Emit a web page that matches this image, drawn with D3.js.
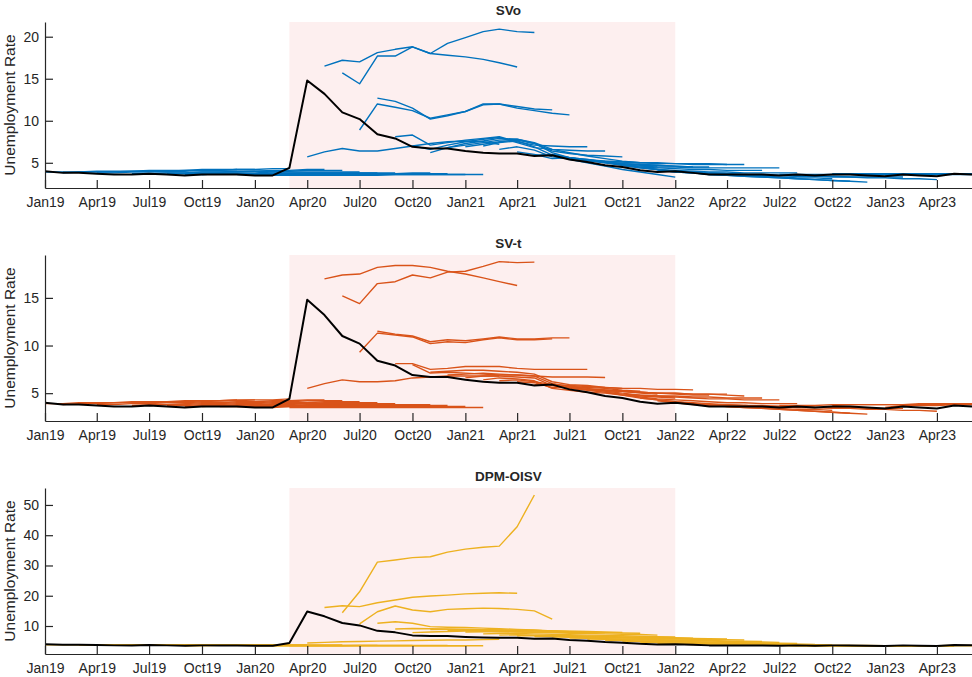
<!DOCTYPE html>
<html>
<head>
<meta charset="utf-8">
<script src="https://cdn.jsdelivr.net/npm/d3@7"></script>
<style>
  body { margin: 0; background: #fff; }
  svg { display: block; font-family: "Liberation Sans", Arial, sans-serif; }
</style>
</head>
<body>
<div id="chart"></div>
<script>
const width = 972;
const height = 677;

// ---- data ----
const xStart = "2019-01";
const xEnd = "2023-06";
const tickMonths = ["2019-01","2019-04","2019-07","2019-10","2020-01","2020-04","2020-07","2020-10",
  "2021-01","2021-04","2021-07","2021-10","2022-01","2022-04","2022-07","2022-10","2023-01","2023-04"];
const shadeRange = ["2020-03", "2022-01"];

const actualStart = "2019-01";
const actualRate = [
  4.0,3.8,3.8,3.7,3.6,3.6,3.7,3.6,3.5,3.6,3.6,3.6,
  3.5,3.5,4.4,14.8,13.2,11.0,10.2,8.4,7.9,6.9,6.7,6.7,
  6.4,6.2,6.1,6.1,5.8,5.9,5.4,5.1,4.7,4.5,4.1,3.9,
  4.0,3.8,3.6,3.6,3.6,3.6,3.5,3.6,3.5,3.6,3.6,3.5,
  3.4,3.6,3.5,3.4,3.7,3.6
];

// each forecast: [first forecast month, values]
const svoForecasts = [
  ["2019-01",[3.9,3.9,3.9,4.0,4.0,4.0,4.1,4.1,4.1,4.2,4.2,4.2]],
  ["2019-02",[3.8,3.9,3.9,3.9,4.0,4.0,4.0,4.1,4.1,4.1,4.2,4.2]],
  ["2019-04",[3.8,3.8,3.9,3.9,4.0,4.0,4.1,4.1,4.2,4.2,4.3,4.3]],
  ["2019-06",[3.7,3.7,3.8,3.8,3.9,3.9,4.0,4.0,4.1,4.1,4.2,4.2]],
  ["2019-07",[3.7,3.8,3.8,3.9,3.9,3.9,4.0,4.0,4.0,4.1,4.1,4.1]],
  ["2019-08",[3.7,3.7,3.7,3.8,3.8,3.8,3.9,3.9,3.9,3.9,3.9,3.9]],
  ["2019-09",[3.6,3.6,3.7,3.7,3.7,3.8,3.8,3.8,3.8,3.8,3.8,3.8]],
  ["2019-10",[3.6,3.7,3.7,3.7,3.7,3.7,3.8,3.8,3.8,3.8,3.8,3.8]],
  ["2019-12",[3.6,3.6,3.6,3.6,3.7,3.7,3.7,3.7,3.7,3.7,3.8,3.8]],
  ["2020-01",[3.6,3.6,3.6,3.6,3.6,3.6,3.6,3.7,3.7,3.7,3.7,3.7]],
  ["2020-02",[3.5,3.5,3.6,3.6,3.6,3.6,3.6,3.6,3.6,3.6,3.6,3.6]],
  ["2020-03",[3.5,3.5,3.5,3.5,3.5,3.5,3.6,3.6,3.6,3.6,3.6,3.6]],
  ["2020-04",[5.7,6.3,6.7,6.4,6.4,6.7,7.0,7.3,7.5,7.6,7.5,7.2]],
  ["2020-05",[16.5,17.2,17.0,18.1,18.5,18.8,18.0,17.8,17.6,17.3,16.9,16.4]],
  ["2020-06",[15.7,14.4,17.7,17.7,18.8,18.0,19.2,19.9,20.6,20.9,20.6,20.5]],
  ["2020-07",[8.9,12.0,11.6,11.2,10.3,10.7,11.1,11.9,12.0,11.7,11.4,11.3]],
  ["2020-08",[12.7,12.3,11.5,10.2,10.6,11.1,12.0,12.0,11.5,11.2,10.9,10.7]],
  ["2020-09",[8.1,8.3,7.1,7.4,7.7,7.9,8.1,7.5,7.1,7.0,6.9,6.9]],
  ["2020-10",[7.0,6.6,7.1,7.5,7.8,8.0,7.4,6.8,6.6,6.5,6.4,6.4]],
  ["2020-11",[6.2,6.8,7.3,7.6,7.9,7.8,7.3,6.4,6.1,5.9,5.8,5.7]],
  ["2020-12",[6.8,7.1,7.4,7.7,7.8,7.4,6.6,6.2,5.8,5.5,5.2,5.0]],
  ["2021-01",[6.9,7.2,7.5,7.7,7.3,6.2,5.6,5.4,5.1,4.9,4.7,4.6]],
  ["2021-02",[7.0,7.4,7.6,6.9,5.9,5.4,5.0,4.6,4.2,3.9,3.6,3.3]],
  ["2021-03",[6.6,6.9,6.5,5.7,5.5,5.3,5.1,4.9,4.8,4.7,4.6,4.5]],
  ["2021-04",[6.3,6.0,5.5,5.6,5.3,5.1,4.9,4.8,4.7,4.6,4.5,4.5]],
  ["2021-05",[5.9,6.0,5.6,5.3,5.2,5.1,5.0,4.9,4.9,4.8,4.8,4.8]],
  ["2021-06",[6.0,5.6,5.4,5.2,5.1,5.0,5.0,4.9,4.9,4.9,4.8,4.8]],
  ["2021-07",[5.5,5.3,5.0,4.7,4.5,4.4,4.3,4.2,4.2,4.1,4.1,4.1]],
  ["2021-08",[5.3,5.0,4.8,4.6,4.5,4.5,4.4,4.4,4.4,4.4,4.4,4.4]],
  ["2021-09",[5.1,4.7,4.4,4.2,4.1,4.0,3.9,3.9,3.8,3.8,3.8,3.8]],
  ["2021-10",[4.7,4.4,4.2,4.0,3.9,3.8,3.7,3.6,3.5,3.5,3.4,3.4]],
  ["2021-11",[4.5,4.2,3.9,3.8,3.7,3.6,3.5,3.4,3.3,3.2,3.2,3.1]],
  ["2021-12",[4.1,3.9,3.8,3.6,3.5,3.4,3.3,3.2,3.1,3.0,2.9,2.8]],
  ["2022-01",[3.9,3.8,3.6,3.5,3.4,3.3,3.2,3.1,3.0,2.9,2.8,2.7]],
  ["2022-03",[3.8,3.7,3.6,3.6,3.5,3.5,3.4,3.4,3.3,3.3,3.3,3.3]],
  ["2022-05",[3.6,3.5,3.5,3.4,3.4,3.3,3.3,3.2,3.2,3.1,3.1,3.0]],
  ["2022-07",[3.6,3.6,3.6,3.6,3.6,3.6,3.6,3.6,3.6,3.6,3.6,3.6]],
  ["2022-10",[3.7,3.7,3.7,3.7,3.7,3.7,3.7,3.7,3.7]],
  ["2023-01",[3.5,3.6,3.6,3.6,3.7,3.7]]
];

const svtForecasts = [
  ["2019-01",[3.9,3.9,4.0,4.0,4.0,4.1,4.1,4.1,4.2,4.2,4.2,4.3]],
  ["2019-02",[3.8,3.9,3.9,4.0,4.0,4.0,4.1,4.1,4.2,4.2,4.3,4.3]],
  ["2019-04",[3.8,3.8,3.9,3.9,4.0,4.0,4.1,4.2,4.2,4.3,4.3,4.4]],
  ["2019-06",[3.7,3.8,3.8,3.9,4.0,4.0,4.1,4.1,4.2,4.2,4.3,4.3]],
  ["2019-07",[3.7,3.8,3.8,3.9,3.9,4.0,4.0,4.1,4.1,4.2,4.2,4.2]],
  ["2019-08",[3.7,3.7,3.8,3.8,3.9,3.9,4.0,4.0,4.0,4.1,4.1,4.1]],
  ["2019-09",[3.6,3.7,3.7,3.8,3.8,3.9,3.9,3.9,4.0,4.0,4.0,4.0]],
  ["2019-10",[3.6,3.7,3.7,3.8,3.8,3.8,3.9,3.9,3.9,3.9,3.9,3.9]],
  ["2019-11",[3.6,3.6,3.7,3.7,3.7,3.8,3.8,3.8,3.8,3.8,3.8,3.8]],
  ["2019-12",[3.6,3.6,3.7,3.7,3.7,3.7,3.8,3.8,3.8,3.8,3.8,3.8]],
  ["2020-01",[3.6,3.6,3.6,3.7,3.7,3.7,3.7,3.7,3.7,3.7,3.7,3.7]],
  ["2020-02",[3.5,3.6,3.6,3.6,3.6,3.6,3.6,3.6,3.6,3.6,3.6,3.6]],
  ["2020-03",[3.5,3.5,3.5,3.5,3.5,3.5,3.5,3.5,3.5,3.5,3.5,3.5]],
  ["2020-04",[5.5,6.0,6.4,6.2,6.2,6.3,6.6,6.7,6.8,6.8,6.8,6.8]],
  ["2020-05",[17.0,17.4,17.5,18.2,18.4,18.4,18.2,17.8,17.5,17.1,16.7,16.3]],
  ["2020-06",[15.2,14.4,16.5,16.7,17.4,17.1,17.7,17.8,18.3,18.8,18.7,18.75]],
  ["2020-07",[9.3,11.3,11.1,10.9,10.2,10.4,10.3,10.6,10.8,10.6,10.6,10.7]],
  ["2020-08",[11.5,11.2,11.0,10.4,10.6,10.5,10.7,10.9,10.7,10.7,10.8,10.8]],
  ["2020-09",[8.1,8.1,7.5,7.6,7.8,7.8,7.8,7.6,7.5,7.5,7.5,7.5]],
  ["2020-10",[8.0,7.1,7.2,7.1,7.0,6.9,6.9,6.8,6.7,6.7,6.7,6.65]],
  ["2020-11",[7.2,7.3,7.4,7.4,7.3,7.2,7.0,6.2,5.9,5.8,5.6,5.5]],
  ["2020-12",[6.9,7.0,7.1,7.0,6.9,6.8,6.0,5.7,5.6,5.5,5.3,5.2]],
  ["2021-01",[6.6,6.8,6.8,6.7,6.6,5.8,5.6,5.4,5.3,5.2,5.0,4.9]],
  ["2021-02",[6.4,6.6,6.5,6.3,5.5,5.3,5.1,5.0,4.8,4.7,4.6,4.5]],
  ["2021-03",[6.3,6.4,6.2,5.9,5.8,5.7,5.6,5.5,5.5,5.4,5.4,5.35]],
  ["2021-04",[6.2,6.1,5.6,5.7,5.5,5.3,5.2,5.1,5.0,4.9,4.8,4.8]],
  ["2021-05",[5.9,5.9,5.5,5.4,5.3,5.2,5.1,5.0,5.0,4.9,4.9,4.9]],
  ["2021-06",[6.0,5.6,5.4,5.3,5.2,5.1,5.0,5.0,4.9,4.9,4.8,4.7]],
  ["2021-07",[5.5,5.3,5.1,4.9,4.8,4.7,4.7,4.6,4.6,4.5,4.5,4.5]],
  ["2021-08",[5.4,5.2,5.0,4.8,4.7,4.6,4.5,4.4,4.4,4.3,4.3,4.3]],
  ["2021-09",[5.1,4.8,4.6,4.4,4.3,4.2,4.1,4.0,4.0,3.9,3.9,3.9]],
  ["2021-10",[4.8,4.5,4.3,4.1,4.0,3.9,3.8,3.7,3.6,3.6,3.5,3.5]],
  ["2021-11",[4.5,4.3,4.1,3.9,3.8,3.7,3.6,3.5,3.4,3.3,3.3,3.2]],
  ["2021-12",[4.2,4.0,3.9,3.8,3.6,3.5,3.4,3.3,3.2,3.1,3.0,2.9]],
  ["2022-01",[4.0,3.8,3.7,3.6,3.5,3.4,3.3,3.2,3.1,3.0,2.9,2.8]],
  ["2022-03",[3.8,3.8,3.7,3.7,3.6,3.6,3.5,3.5,3.5,3.4,3.4,3.4]],
  ["2022-05",[3.7,3.6,3.6,3.5,3.5,3.4,3.4,3.3,3.3,3.2,3.2,3.1]],
  ["2022-07",[3.7,3.7,3.7,3.8,3.8,3.8,3.8,3.8,3.8,3.8,3.8,3.8]],
  ["2022-10",[3.7,3.8,3.8,3.8,3.8,3.9,3.9,3.9,3.9]],
  ["2023-01",[3.5,3.7,3.7,3.7,3.8,3.8]]
];

const dpmForecasts = [
  ["2019-01",[3.8,3.8,3.8,3.8,3.8,3.8,3.8,3.8,3.8,3.8,3.8,3.8]],
  ["2019-03",[3.7,3.7,3.7,3.7,3.7,3.7,3.7,3.7,3.7,3.7,3.7,3.7]],
  ["2019-05",[3.6,3.6,3.6,3.7,3.7,3.7,3.7,3.7,3.7,3.7,3.7,3.7]],
  ["2019-07",[3.6,3.6,3.6,3.6,3.6,3.6,3.7,3.7,3.7,3.7,3.7,3.7]],
  ["2019-09",[3.5,3.5,3.6,3.6,3.6,3.6,3.6,3.6,3.6,3.6,3.6,3.6]],
  ["2019-11",[3.6,3.6,3.6,3.6,3.6,3.6,3.6,3.6,3.6,3.6,3.6,3.6]],
  ["2020-01",[3.5,3.5,3.5,3.5,3.5,3.5,3.6,3.6,3.6,3.6,3.6,3.6]],
  ["2020-02",[3.5,3.5,3.5,3.5,3.5,3.5,3.5,3.5,3.5,3.5,3.5,3.5]],
  ["2020-03",[3.5,3.5,3.5,3.5,3.5,3.5,3.5,3.5,3.5,3.5,3.5,3.5]],
  ["2020-04",[4.4,4.6,4.8,4.9,5.0,5.1,5.2,5.3,5.4,5.4,5.5,5.6]],
  ["2020-05",[16.1,16.7,16.4,17.7,18.6,19.5,19.9,20.2,20.6,20.8,21.0,20.8]],
  ["2020-06",[14.4,21.3,31.1,31.8,32.6,32.9,34.4,35.4,36.0,36.4,42.8,53.3]],
  ["2020-07",[10.7,14.7,16.6,15.3,14.7,15.5,15.7,15.9,15.8,15.5,15.0,12.3]],
  ["2020-08",[10.9,11.4,10.9,9.8,9.6,9.5,9.3,9.1,8.9,8.7,8.4,8.1]],
  ["2020-09",[9.0,9.2,9.1,9.0,8.9,8.8,8.7,8.6,8.5,8.4,8.2,8.1]],
  ["2020-10",[7.8,8.0,8.2,8.3,8.3,8.2,8.1,8.0,7.9,7.9,7.8,7.8]],
  ["2020-11",[8.8,8.9,8.9,8.8,8.7,8.6,8.5,8.4,8.3,8.2,8.0,7.9]],
  ["2020-12",[8.5,8.6,8.6,8.5,8.4,8.3,8.2,8.0,7.9,7.8,7.7,7.6]],
  ["2021-01",[8.0,8.1,8.1,8.0,7.9,7.8,7.6,7.5,7.4,7.3,7.2,7.0]],
  ["2021-02",[7.4,7.5,7.5,7.4,7.3,7.1,7.0,6.9,6.8,6.6,6.5,6.4]],
  ["2021-03",[7.0,7.1,7.0,6.9,6.8,6.7,6.6,6.4,6.3,6.2,6.1,6.0]],
  ["2021-04",[6.8,6.8,6.7,6.6,6.5,6.4,6.3,6.2,6.1,6.0,5.9,5.8]],
  ["2021-05",[6.5,6.6,6.5,6.4,6.3,6.2,6.1,6.0,5.9,5.8,5.8,5.7]],
  ["2021-06",[6.4,6.3,6.2,6.1,6.0,5.9,5.8,5.7,5.6,5.5,5.5,5.4]],
  ["2021-07",[6.0,5.9,5.8,5.7,5.6,5.5,5.4,5.3,5.2,5.1,5.0,4.9]],
  ["2021-08",[5.7,5.6,5.5,5.4,5.3,5.2,5.1,5.0,4.9,4.8,4.7,4.6]],
  ["2021-09",[5.3,5.2,5.1,5.0,4.9,4.8,4.7,4.6,4.5,4.4,4.3,4.2]],
  ["2021-10",[5.0,4.9,4.8,4.7,4.6,4.5,4.4,4.3,4.2,4.1,4.0,3.9]],
  ["2021-11",[4.6,4.5,4.4,4.3,4.3,4.2,4.1,4.0,3.9,3.9,3.8,3.7]],
  ["2021-12",[4.2,4.2,4.1,4.0,4.0,3.9,3.8,3.8,3.7,3.7,3.6,3.6]],
  ["2022-01",[4.0,3.9,3.8,3.8,3.7,3.7,3.6,3.6,3.5,3.5,3.5,3.4]],
  ["2022-03",[3.7,3.7,3.6,3.6,3.6,3.5,3.5,3.5,3.4,3.4,3.4,3.4]],
  ["2022-06",[3.6,3.6,3.5,3.5,3.5,3.5,3.4,3.4,3.4,3.4,3.4,3.4]],
  ["2022-10",[3.6,3.6,3.6,3.5,3.5,3.5,3.5,3.5,3.5]],
  ["2023-01",[3.4,3.5,3.5,3.5,3.6,3.6]]
];

const panelTitles = ["SVo", "SV-t", "DPM-OISV"];
const panelColors = ["#0072BD", "#D95319", "#EDB120"];
const panelYDomains = [[2, 21.75], [2.08, 19.5], [0.75, 55.6]];
const panelYTicks = [[5, 10, 15, 20], [5, 10, 15], [10, 20, 30, 40, 50]];
const panelForecasts = [svoForecasts, svtForecasts, dpmForecasts];

// ---- layout ----
const plotLeft = 45;
const plotRight = 972;
const panelTops = [22, 255, 488];
const plotHeight = 166;
const axisColor = "#262626";

const parseMonth = d3.timeParse("%Y-%m");
const toPoints = (start, values) =>
  values.map((v, i) => ({ date: d3.timeMonth.offset(parseMonth(start), i), value: v }));

const svg = d3.select("#chart")
  .append("svg")
  .attr("width", width)
  .attr("height", height);

const x = d3.scaleTime()
  .domain([parseMonth(xStart), parseMonth(xEnd)])
  .range([plotLeft, plotRight]);

const actualPoints = toPoints(actualStart, actualRate);

panelTitles.forEach((title, i) => {
  const top = panelTops[i];
  const bottom = top + plotHeight;
  const y = d3.scaleLinear().domain(panelYDomains[i]).range([bottom, top]);
  const line = d3.line().x(d => x(d.date)).y(d => y(d.value));
  const g = svg.append("g");

  g.append("clipPath")
    .attr("id", "clip" + i)
    .append("rect")
    .attr("x", plotLeft)
    .attr("y", top)
    .attr("width", plotRight - plotLeft)
    .attr("height", plotHeight);

  // shaded covid period
  g.append("rect")
    .attr("x", x(parseMonth(shadeRange[0])))
    .attr("y", top)
    .attr("width", x(parseMonth(shadeRange[1])) - x(parseMonth(shadeRange[0])))
    .attr("height", plotHeight)
    .attr("fill", "#fdefef");

  const plot = g.append("g").attr("clip-path", `url(#clip${i})`);

  plot.selectAll("path.fc")
    .data(panelForecasts[i])
    .join("path")
    .attr("class", "fc")
    .attr("d", f => line(toPoints(f[0], f[1])))
    .attr("fill", "none")
    .attr("stroke", panelColors[i])
    .attr("stroke-width", 1.4)
    .attr("stroke-linejoin", "round");

  plot.append("path")
    .attr("d", line(actualPoints))
    .attr("fill", "none")
    .attr("stroke", "#000")
    .attr("stroke-width", 2)
    .attr("stroke-linejoin", "round");

  // axes
  const xAxis = g.append("g")
    .attr("transform", `translate(0,${bottom})`)
    .call(d3.axisBottom(x)
      .tickValues(tickMonths.map(parseMonth))
      .tickFormat(d3.timeFormat("%b%y"))
      .tickSizeInner(-8)
      .tickSizeOuter(0)
      .tickPadding(9));

  const yAxis = g.append("g")
    .attr("transform", `translate(${plotLeft},0)`)
    .call(d3.axisLeft(y)
      .tickValues(panelYTicks[i])
      .tickSizeInner(-8)
      .tickSizeOuter(0)
      .tickPadding(6));

  [xAxis, yAxis].forEach(a => {
    a.attr("font-size", 14)
      .attr("font-family", "'Liberation Sans', Arial, sans-serif")
      .attr("color", axisColor);
    a.selectAll("path, line").attr("stroke-width", 1.2);
  });

  g.append("text")
    .attr("transform", `translate(15,${top + plotHeight / 2}) rotate(-90)`)
    .attr("text-anchor", "middle")
    .attr("font-size", 15.5)
    .attr("fill", axisColor)
    .text("Unemployment Rate");

  g.append("text")
    .attr("x", (plotLeft + plotRight) / 2)
    .attr("y", top - 7)
    .attr("text-anchor", "middle")
    .attr("font-size", 13.5)
    .attr("font-weight", "bold")
    .attr("fill", axisColor)
    .text(title);
});
</script>
</body>
</html>
